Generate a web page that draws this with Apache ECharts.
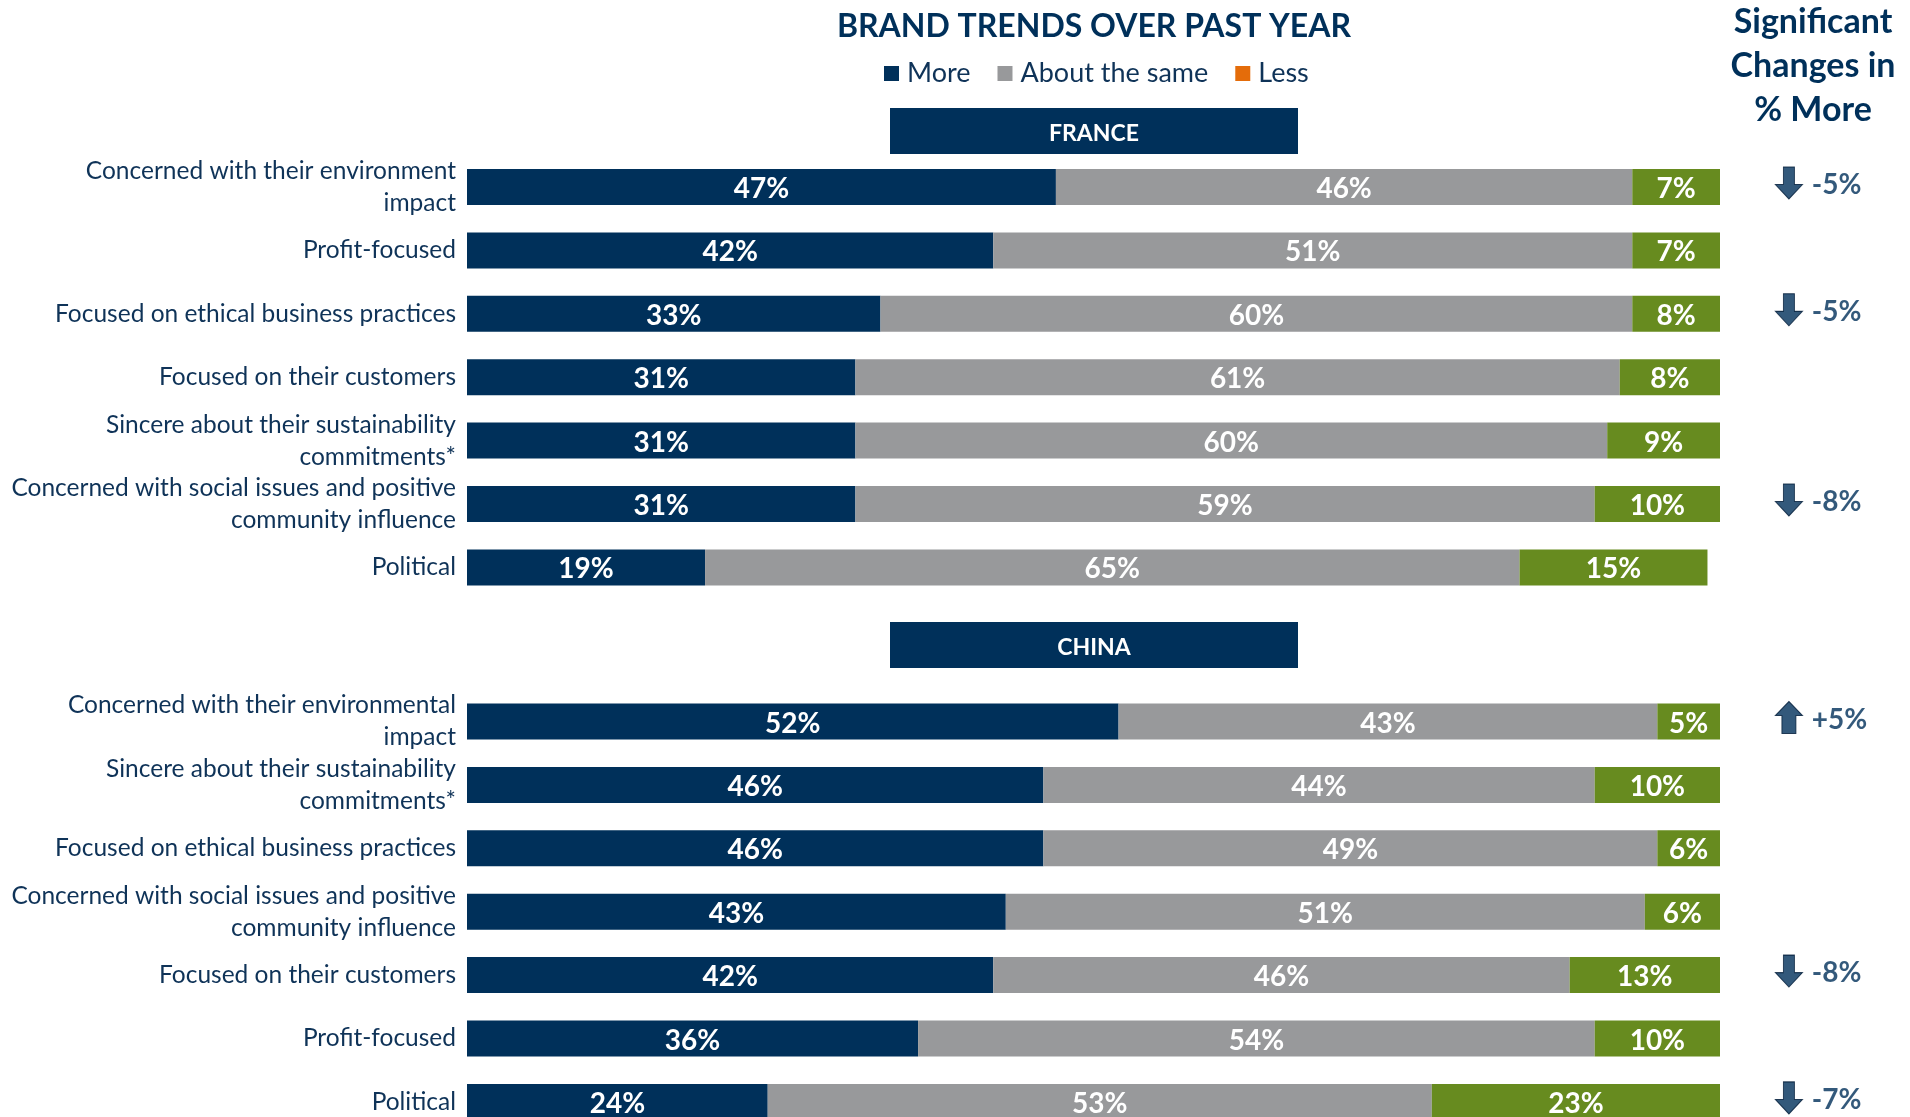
<!DOCTYPE html>
<html>
<head>
<meta charset="utf-8">
<title>Brand Trends Over Past Year</title>
<script src="https://cdn.jsdelivr.net/npm/echarts@6/dist/echarts.min.js"></script>
<style>
  html, body { margin: 0; padding: 0; background: #ffffff; }
  #chart { width: 1910px; height: 1117px; }
</style>
</head>
<body>
<div id="chart"></div>
<script>
// ---- Data ----
const categoriesFrance = [
  'Concerned with their environment\nimpact',
  'Profit-focused',
  'Focused on ethical business practices',
  'Focused on their customers',
  'Sincere about their sustainability\ncommitments*',
  'Concerned with social issues and positive\ncommunity influence',
  'Political'
];
const moreFrance = [47, 42, 33, 31, 31, 31, 19];
const sameFrance = [46, 51, 60, 61, 60, 59, 65];
const lessFrance = [7, 7, 8, 8, 9, 10, 15];
const changeFrance = [-5, null, -5, null, null, -8, null];

const categoriesChina = [
  'Concerned with their environmental\nimpact',
  'Sincere about their sustainability\ncommitments*',
  'Focused on ethical business practices',
  'Concerned with social issues and positive\ncommunity influence',
  'Focused on their customers',
  'Profit-focused',
  'Political'
];
const moreChina = [52, 46, 46, 43, 42, 36, 24];
const sameChina = [43, 44, 49, 51, 46, 54, 53];
const lessChina = [5, 10, 6, 6, 13, 10, 23];
const changeChina = [5, null, null, null, -8, null, -7];

const seriesNames = ['More', 'About the same', 'Less'];

// ---- Styling ----
const NAVY = '#00305a';
const GREY = '#98999b';
const GREEN = '#678b1f';
const ORANGE = '#e46c0a';
const TEXT = '#0f3358';
const FONT = 'Lato, "Open Sans", sans-serif';

// x position (in axis units) of the "significant change" column, right of the 100% end
const CHANGE_COLUMN_X = 105.5;

const ARROW_DOWN = 'path://M8,0 L19,0 L19,17 L27,17 L13.5,31 L0,17 L8,17 Z';
const ARROW_UP = 'path://M13.5,0 L27,14 L20.5,14 L20.5,32 L6.5,32 L6.5,14 L0,14 Z';

function barSeries(name, values, color, gridIdx, stack) {
  return {
    name: name,
    type: 'bar',
    stack: stack,
    xAxisIndex: gridIdx,
    yAxisIndex: gridIdx,
    barWidth: 36,
    itemStyle: { color: color },
    label: {
      show: true,
      position: 'inside',
      offset: [0, 2],
      formatter: '{c}%',
      color: '#ffffff',
      fontFamily: FONT,
      fontWeight: 'bold',
      fontSize: 28
    },
    emphasis: { disabled: true },
    data: values
  };
}

function changeSeries(changes, gridIdx) {
  return {
    type: 'scatter',
    xAxisIndex: gridIdx,
    yAxisIndex: gridIdx,
    clip: false,
    symbolSize: [27, 32],
    symbolOffset: [0, -4],
    itemStyle: { color: NAVY, borderColor: '#001c38', borderWidth: 1 },
    label: {
      show: true,
      position: 'right',
      distance: 9,
      offset: [0, 2],
      color: NAVY,
      fontFamily: FONT,
      fontWeight: 'bold',
      fontSize: 28,
      formatter: p => (p.data.change > 0 ? '+' : '') + p.data.change + '%'
    },
    emphasis: { disabled: true },
    data: changes.map((c, i) => c === null ? null : {
      value: [CHANGE_COLUMN_X, i],
      change: c,
      symbol: c < 0 ? ARROW_DOWN : ARROW_UP
    }).filter(d => d !== null)
  };
}

function categoryAxis(cats, gridIdx) {
  return {
    type: 'category',
    gridIndex: gridIdx,
    data: cats,
    inverse: true,
    axisLine: { show: false },
    axisTick: { show: false },
    splitLine: { show: false },
    axisLabel: {
      interval: 0,
      margin: 11,
      color: TEXT,
      fontFamily: FONT,
      fontSize: 24.5,
      lineHeight: 32,
      align: 'right',
      padding: [0, 0, 3, 0]
    }
  };
}

function valueAxis(gridIdx) {
  return { type: 'value', gridIndex: gridIdx, min: 0, max: 100, show: false };
}

function sectionHeader(label, top) {
  return {
    type: 'group',
    children: [
      { type: 'rect', shape: { x: 890, y: top, width: 408, height: 46 }, style: { fill: NAVY } },
      {
        type: 'text', x: 1094, y: top + 26,
        style: {
          text: label, textAlign: 'center', textVerticalAlign: 'middle',
          fill: '#ffffff', font: 'bold 23px ' + FONT
        }
      }
    ]
  };
}

const chart = echarts.init(document.getElementById('chart'), null, { renderer: 'canvas' });

chart.setOption({
  backgroundColor: '#ffffff',
  animation: false,
  legend: {
    left: 879,
    top: 55,
    icon: 'rect',
    itemWidth: 15,
    itemHeight: 15,
    itemGap: 27,
    selectedMode: false,
    textStyle: { color: TEXT, fontFamily: FONT, fontSize: 27, padding: [0, 0, 0, 3] },
    data: [
      { name: 'More' },
      { name: 'About the same' },
      { name: 'Less', itemStyle: { color: ORANGE } }
    ]
  },
  grid: [
    { left: 467, width: 1253, top: 155.3, height: 443.8, outerBoundsMode: 'none' },
    { left: 467, width: 1253, top: 689.8, height: 443.8, outerBoundsMode: 'none' }
  ],
  xAxis: [valueAxis(0), valueAxis(1)],
  yAxis: [categoryAxis(categoriesFrance, 0), categoryAxis(categoriesChina, 1)],
  series: [
    barSeries(seriesNames[0], moreFrance, NAVY, 0, 'france'),
    barSeries(seriesNames[1], sameFrance, GREY, 0, 'france'),
    barSeries(seriesNames[2], lessFrance, GREEN, 0, 'france'),
    barSeries(seriesNames[0], moreChina, NAVY, 1, 'china'),
    barSeries(seriesNames[1], sameChina, GREY, 1, 'china'),
    barSeries(seriesNames[2], lessChina, GREEN, 1, 'china'),
    changeSeries(changeFrance, 0),
    changeSeries(changeChina, 1)
  ],
  graphic: [
    {
      type: 'text', x: 1094, y: 11,
      style: {
        text: 'BRAND TRENDS OVER PAST YEAR', textAlign: 'center', textVerticalAlign: 'top',
        fill: NAVY, font: 'bold 32px ' + FONT
      }
    },
    {
      type: 'text', x: 1813, y: 0,
      style: {
        text: 'Significant\nChanges in\n% More', textAlign: 'center', textVerticalAlign: 'top',
        fill: NAVY, font: 'bold 34px ' + FONT, lineHeight: 44
      }
    },
    sectionHeader('FRANCE', 108),
    sectionHeader('CHINA', 622)
  ]
});
</script>
</body>
</html>
